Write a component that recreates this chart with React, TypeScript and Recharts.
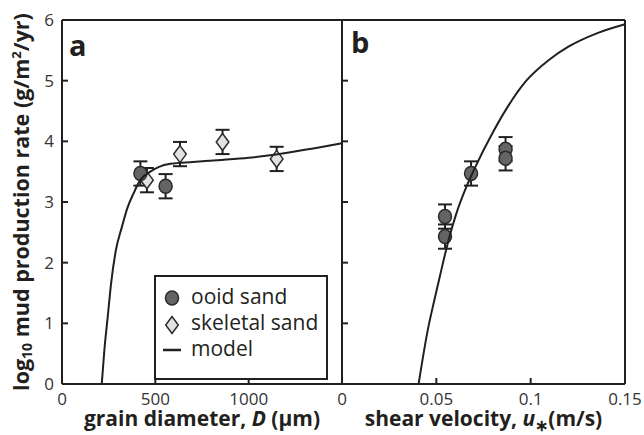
import React from 'react';
import { ScatterChart, Scatter, XAxis, YAxis, ErrorBar, Legend, Label } from 'recharts';

const FONT = '"Open Sans", "Noto Sans", sans-serif';
const INK = '#231f20';

// panel a: grain diameter (µm)
const ooidA_D = [420, 555];
const ooidA_rate = [3.47, 3.26];
const ooidA_err = [0.2, 0.2];

const skelA_D = [455, 632, 860, 1150];
const skelA_rate = [3.36, 3.79, 3.99, 3.71];
const skelA_err = [0.2, 0.2, 0.2, 0.2];

const modelA_D = [213, 227, 245, 263, 289, 321, 350, 383, 419, 473, 520, 581, 700, 832, 1000, 1136, 1300, 1500];
const modelA_rate = [0, 0.56, 1.11, 1.66, 2.21, 2.59, 2.9, 3.14, 3.36, 3.5, 3.58, 3.63, 3.66, 3.69, 3.73, 3.78, 3.86, 3.97];

// panel b: shear velocity (m/s)
const ooidB_u = [0.0546, 0.0546, 0.0684, 0.0867, 0.0867];
const ooidB_rate = [2.76, 2.43, 3.47, 3.87, 3.72];
const ooidB_err = [0.2, 0.2, 0.2, 0.2, 0.2];

const modelB_u = [0.0406, 0.0454, 0.0493, 0.0534, 0.0569, 0.0605, 0.0658, 0.0698, 0.0805, 0.0977, 0.11, 0.12, 0.135, 0.15];
const modelB_rate = [0, 0.88, 1.43, 1.98, 2.42, 2.8, 3.24, 3.52, 4.18, 5.0, 5.35, 5.56, 5.78, 5.93];

const ticksD = [0, 500, 1000];
const ticksU = [0, 0.05, 0.1, 0.15];
const ticksRate = [0, 1, 2, 3, 4, 5, 6];

const pts = (xs: number[], ys: number[], errs?: number[]) =>
  xs.map((x, i) => ({ x, y: ys[i], err: errs ? errs[i] : 0 }));

const ooidA = pts(ooidA_D, ooidA_rate, ooidA_err);
const skelA = pts(skelA_D, skelA_rate, skelA_err);
const modelA = pts(modelA_D, modelA_rate);
const ooidB = pts(ooidB_u, ooidB_rate, ooidB_err);
const modelB = pts(modelB_u, modelB_rate);

const TICK = 6;
const axisLine = { stroke: INK, strokeWidth: 2 };

const bottomTick = (showLabel: boolean) => (p: any) => (
  <g>
    <line x1={p.x} x2={p.x} y1={p.y} y2={p.y - TICK} stroke={INK} strokeWidth={2} />
    {showLabel && (
      <text x={p.x} y={p.y + 21} textAnchor="middle" fontSize={17} fill="#333" fontFamily={FONT}>
        {String(p.payload.value)}
      </text>
    )}
  </g>
);
const topTick = (p: any) => <line x1={p.x} x2={p.x} y1={p.y} y2={p.y + TICK} stroke={INK} strokeWidth={2} />;
const leftTick = (showLabel: boolean) => (p: any) => (
  <g>
    <line x1={p.x} x2={p.x + TICK} y1={p.y} y2={p.y} stroke={INK} strokeWidth={2} />
    {showLabel && (
      <text x={p.x - 8} y={p.y + 6} textAnchor="end" fontSize={17} fill="#333" fontFamily={FONT}>
        {String(p.payload.value)}
      </text>
    )}
  </g>
);
const rightTick = (p: any) => <line x1={p.x} x2={p.x - TICK} y1={p.y} y2={p.y} stroke={INK} strokeWidth={2} />;

const Circle = (p: any) => <ellipse cx={p.cx} cy={p.cy} rx={6.5} ry={7} fill="#646464" stroke="#2b2b2b" strokeWidth={1.5} />;
const Diamond = (p: any) => (
  <polygon
    points={`${p.cx},${p.cy - 8.5} ${p.cx + 6.3},${p.cy} ${p.cx},${p.cy + 8.5} ${p.cx - 6.3},${p.cy}`}
    fill="#e2e2e2"
    stroke="#2b2b2b"
    strokeWidth={1.5}
  />
);
const NoDot = () => <g />;

const YTitle = (p: any) => {
  const cx = 29;
  const cy = p.viewBox.y + p.viewBox.height / 2;
  return (
    <text x={cx} y={cy} transform={`rotate(-90, ${cx}, ${cy})`} textAnchor="middle" fontSize={21.5} fontWeight={700} fill={INK} fontFamily={FONT}>
      log<tspan fontSize={14} dy={3}>10</tspan>
      <tspan dy={-3}> mud production rate (g/m</tspan>
      <tspan fontSize={13} dy={-8}>2</tspan>
      <tspan dy={8}>/yr)</tspan>
    </text>
  );
};

const XTitleA = (p: any) => (
  <text x={p.viewBox.x + p.viewBox.width / 2} y={p.viewBox.y + 42} textAnchor="middle" fontSize={21} fontWeight={700} fill={INK} fontFamily={FONT}>
    grain diameter, <tspan fontStyle="italic">D</tspan> (µm)
  </text>
);

const XTitleB = (p: any) => (
  <text x={p.viewBox.x + p.viewBox.width / 2} y={p.viewBox.y + 42} textAnchor="middle" fontSize={21} fontWeight={700} fill={INK} fontFamily={FONT}>
    shear velocity, <tspan fontStyle="italic">u</tspan>
    <tspan fontSize={16} dy={5}>∗</tspan>
    <tspan dy={-5}>(m/s)</tspan>
  </text>
);

const LegendBox = () => (
  <div
    style={{
      position: 'relative',
      width: 174,
      height: 105,
      boxSizing: 'border-box',
      border: `2px solid ${INK}`,
      background: '#fff',
      fontFamily: FONT,
      fontSize: 21,
      color: INK,
    }}
  >
    <svg width={40} height={101} style={{ position: 'absolute', left: 0, top: 0 }}>
      <ellipse cx={16} cy={21} rx={6.5} ry={7} fill="#646464" stroke="#2b2b2b" strokeWidth={1.5} />
      <polygon points="16,39.5 22.3,48 16,56.5 9.7,48" fill="#e2e2e2" stroke="#2b2b2b" strokeWidth={1.5} />
      <line x1={7} x2={25} y1={73} y2={73} stroke={INK} strokeWidth={2.5} />
    </svg>
    <div style={{ position: 'absolute', left: 35, top: 6, lineHeight: '26px', whiteSpace: 'nowrap' }}>
      <div>ooid sand</div>
      <div>skeletal sand</div>
      <div>model</div>
    </div>
  </div>
);

const letterStyle: React.CSSProperties = {
  position: 'absolute',
  fontFamily: FONT,
  fontWeight: 700,
  fontSize: 29,
  color: INK,
  lineHeight: 1,
};

export default function App() {
  return (
    <div style={{ position: 'absolute', left: 0, top: 0, width: 644, height: 435, background: '#fff' }}>
      <ScatterChart width={644} height={435} margin={{ top: 10, right: 292, bottom: 21, left: 22 }} style={{ position: 'absolute', left: 0, top: 0 }}>
        <XAxis xAxisId="bot" type="number" dataKey="x" domain={[0, 1500]} ticks={ticksD} interval={0} height={30}
          tickSize={0} tickMargin={0} tickLine={false} axisLine={axisLine} tick={bottomTick(true)}
          label={<Label content={XTitleA} />} />
        <XAxis xAxisId="top" orientation="top" type="number" dataKey="x" domain={[0, 1500]} ticks={ticksD} interval={0} height={10}
          tickSize={0} tickMargin={0} tickLine={false} axisLine={axisLine} tick={topTick} />
        <YAxis yAxisId="left" type="number" dataKey="y" domain={[0, 6]} ticks={ticksRate} interval={0} width={40}
          tickSize={0} tickMargin={0} tickLine={false} axisLine={axisLine} tick={leftTick(true)}
          label={<Label content={YTitle} />} />
        <YAxis yAxisId="right" orientation="right" type="number" dataKey="y" domain={[0, 6]} ticks={ticksRate} interval={0} width={10}
          tickSize={0} tickMargin={0} tickLine={false} axisLine={axisLine} tick={rightTick} />
        <Legend layout="vertical" align="center" verticalAlign="middle" content={<LegendBox />}
          wrapperStyle={{ left: 154, top: 275, width: 174, height: 105 }} />
        <Scatter name="skeletal sand" data={skelA} xAxisId="bot" yAxisId="left" shape={Diamond} isAnimationActive={false}>
          <ErrorBar dataKey="err" direction="y" width={7} stroke={INK} strokeWidth={2} />
        </Scatter>
        <Scatter name="ooid sand" data={ooidA} xAxisId="bot" yAxisId="left" shape={Circle} isAnimationActive={false}>
          <ErrorBar dataKey="err" direction="y" width={7} stroke={INK} strokeWidth={2} />
        </Scatter>
        <Scatter name="model" data={modelA} xAxisId="bot" yAxisId="left" shape={NoDot}
          line={{ stroke: INK, strokeWidth: 2 }} lineJointType="monotoneX" isAnimationActive={false} />
      </ScatterChart>

      <ScatterChart width={644} height={435} margin={{ top: 10, right: 9, bottom: 21, left: 332 }} style={{ position: 'absolute', left: 0, top: 0 }}>
        <XAxis xAxisId="bot" type="number" dataKey="x" domain={[0, 0.15]} ticks={ticksU} interval={0} height={30}
          tickSize={0} tickMargin={0} tickLine={false} axisLine={axisLine} tick={bottomTick(true)}
          label={<Label content={XTitleB} />} />
        <XAxis xAxisId="top" orientation="top" type="number" dataKey="x" domain={[0, 0.15]} ticks={ticksU} interval={0} height={10}
          tickSize={0} tickMargin={0} tickLine={false} axisLine={axisLine} tick={topTick} />
        <YAxis yAxisId="left" type="number" dataKey="y" domain={[0, 6]} ticks={ticksRate} interval={0} width={10}
          tickSize={0} tickMargin={0} tickLine={false} axisLine={axisLine} tick={leftTick(false)} />
        <YAxis yAxisId="right" orientation="right" type="number" dataKey="y" domain={[0, 6]} ticks={ticksRate} interval={0} width={10}
          tickSize={0} tickMargin={0} tickLine={false} axisLine={axisLine} tick={rightTick} />
        <Scatter name="ooid sand" data={ooidB} xAxisId="bot" yAxisId="left" shape={Circle} isAnimationActive={false}>
          <ErrorBar dataKey="err" direction="y" width={7} stroke={INK} strokeWidth={2} />
        </Scatter>
        <Scatter name="model" data={modelB} xAxisId="bot" yAxisId="left" shape={NoDot}
          line={{ stroke: INK, strokeWidth: 2 }} lineJointType="monotoneX" isAnimationActive={false} />
      </ScatterChart>

      <div style={{ ...letterStyle, left: 69, top: 30 }}>a</div>
      <div style={{ ...letterStyle, left: 351, top: 27 }}>b</div>
    </div>
  );
}
